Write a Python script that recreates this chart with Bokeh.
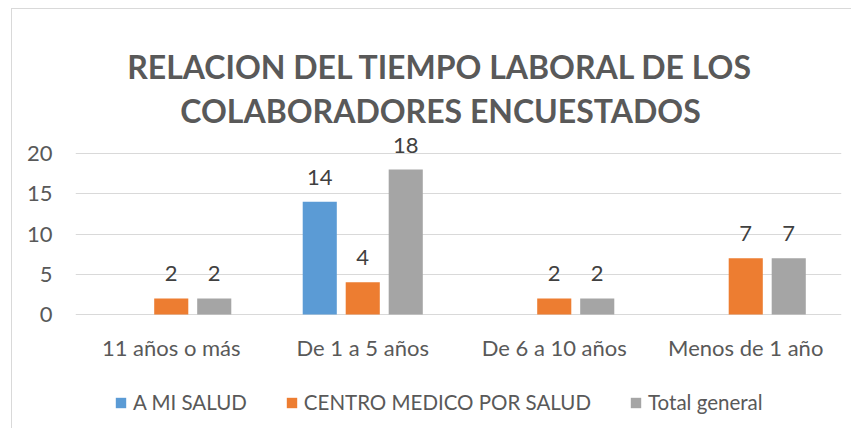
from bokeh.plotting import figure
from bokeh.models import (ColumnDataSource, Range1d, FactorRange, LabelSet, Label,
                          Legend, LegendItem, FixedTicker)
from bokeh.core.properties import value
from bokeh.transform import dodge
from bokeh.embed import file_html
from bokeh.resources import INLINE

# ---- data ----
categories = ["11 años o más", "De 1 a 5 años", "De 6 a 10 años", "Menos de 1 año"]
a_mi_salud = [None, 14, None, None]
centro_medico = [2, 4, 2, 7]
total_general = [2, 18, 2, 7]
series_names = ["A MI SALUD", "CENTRO MEDICO POR SALUD", "Total general"]
series_colors = ["#5B9BD5", "#ED7D31", "#A5A5A5"]
y_ticks = [0, 5, 10, 15, 20]
title_lines = ["RELACION DEL TIEMPO LABORAL DE LOS", "COLABORADORES ENCUESTADOS"]

FONT = "Lato"
series_values = [a_mi_salud, centro_medico, total_general]
offsets = [-0.2245, 0.0, 0.2245]
bar_w = 0.178

# ---- layout (page pixels) ----
CANVAS_TOP, CANVAS_H = 9, 420
FRAME_L, FRAME_R = 75, 841
Y0_PX, Y20_PX = 314, 153
ppu = (Y0_PX - Y20_PX) / 20.0
y_start = -((CANVAS_TOP + CANVAS_H) - Y0_PX) / ppu
y_end = (Y0_PX - CANVAS_TOP) / ppu


def ydata(py):
    return (Y0_PX - py) / ppu


def xdata(px):
    return (px - FRAME_L) / (FRAME_R - FRAME_L) * len(categories)


p = figure(x_range=FactorRange(*categories), y_range=Range1d(y_start, y_end),
           width=840, height=CANVAS_H, output_backend="svg", toolbar_location=None,
           x_axis_location=None,
           min_border_left=63, min_border_right=11, min_border_top=0,
           min_border_bottom=0)
p.styles = {"border-left": "1px solid #d9d9d9", "border-top": "1px solid #d9d9d9",
            "margin-left": "11px", "margin-top": "8px"}
p.outline_line_color = None
p.background_fill_color = "white"
p.border_fill_color = "white"

items = []
for name, color, vals, off in zip(series_names, series_colors, series_values, offsets):
    tops = [float("nan") if v is None else v for v in vals]
    src = ColumnDataSource(dict(cat=categories, top=tops))
    r = p.vbar(x=dodge("cat", off, range=p.x_range), top="top", width=bar_w,
               source=src, fill_color=color, line_color=None)
    items.append(LegendItem(label=name, renderers=[r]))
    lab_cats = [c for c, v in zip(categories, vals) if v is not None]
    lab_vals = [v for v in vals if v is not None]
    lsrc = ColumnDataSource(dict(cat=lab_cats, y=lab_vals, t=[str(v) for v in lab_vals]))
    p.add_layout(LabelSet(x=dodge("cat", off, range=p.x_range), y="y", text="t", source=lsrc,
                          y_offset=17, text_align="center", text_baseline="alphabetic",
                          text_font=value(FONT), text_font_size=value("22px"),
                          text_color=value("#404040")))

# category labels (x axis)
csrc = ColumnDataSource(dict(cat=categories, y=[0] * len(categories)))
p.add_layout(LabelSet(x="cat", y="y", text="cat", source=csrc, y_offset=-41,
                      text_align="center", text_baseline="alphabetic",
                      text_font=value(FONT), text_font_size=value("22px"),
                      text_color=value("#595959")))

legend = Legend(items=items, orientation="horizontal", location=(39, 15),
                glyph_width=13, glyph_height=13, label_standoff=6, spacing=38,
                padding=0, margin=0, border_line_color=None, background_fill_alpha=0,
                label_text_font=FONT, label_text_font_size="20.5px",
                label_text_color="#595959")
p.add_layout(legend, "center")

for txt, py in zip(title_lines, [66, 110]):
    p.add_layout(Label(x=xdata(440), y=ydata(py), text=txt,
                       text_align="center", text_baseline="alphabetic",
                       text_font=FONT, text_font_style="bold", text_font_size="32px",
                       text_color="#595959"))

p.xgrid.grid_line_color = None
p.ygrid.grid_line_color = "#d9d9d9"
p.ygrid.grid_line_width = 1
p.yaxis.ticker = FixedTicker(ticks=y_ticks)
p.yaxis.axis_line_color = None
p.yaxis.major_tick_line_color = None
p.yaxis.minor_tick_line_color = None
p.yaxis.major_tick_out = 0
p.yaxis.major_label_standoff = 23
p.yaxis.major_label_text_font = FONT
p.yaxis.major_label_text_font_size = "22px"
p.yaxis.major_label_text_color = "#595959"

open("out.html", "w").write(file_html(p, INLINE))
